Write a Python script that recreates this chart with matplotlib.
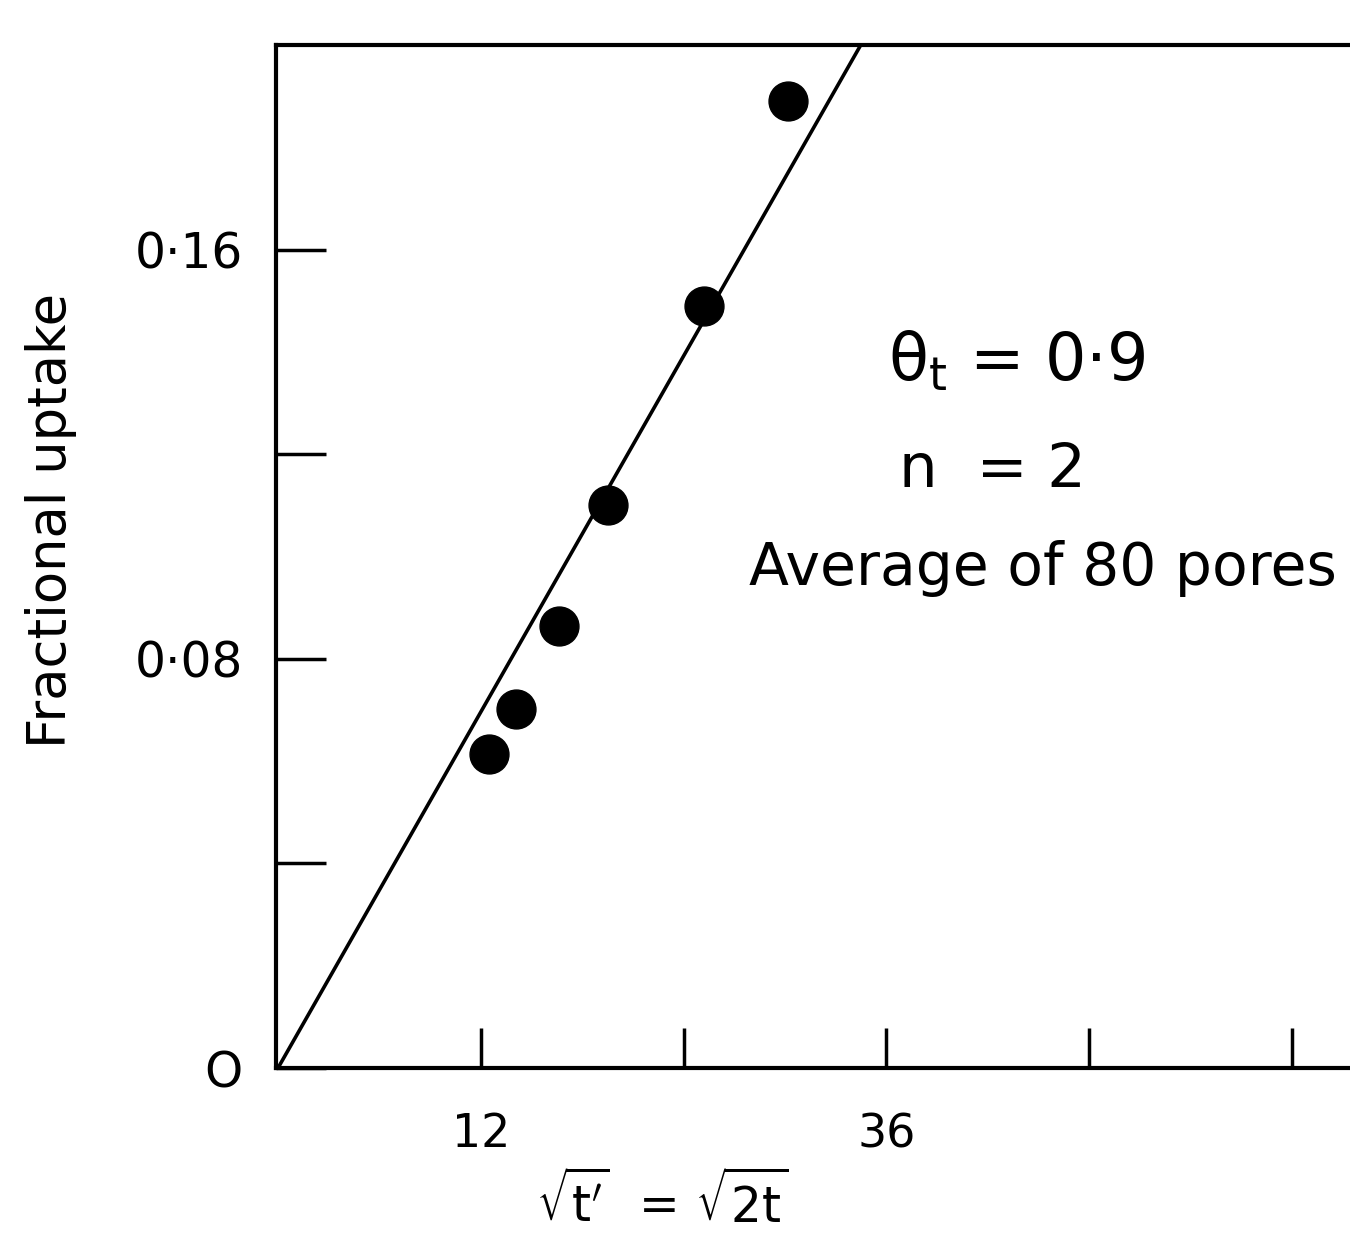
import matplotlib
matplotlib.use("Agg")
import matplotlib.pyplot as plt
import numpy as np

# data
sqrt_t = [12.5, 14.1, 16.6, 19.5, 25.2, 30.2]
uptake = [0.0614, 0.0702, 0.0864, 0.110, 0.149, 0.189]
fit_slope = 0.0058
x_ticks = [12, 24, 36, 48, 60]
x_ticklabels = ["12", "", "36", "", ""]
y_ticks = [0, 0.04, 0.08, 0.12, 0.16]
y_ticklabels = ["O", "", "0·08", "", "0·16"]

plt.rcParams['font.family'] = ['DejaVu Sans']
fig = plt.figure(figsize=(13.5, 12.42), dpi=100)
W, H = 1350, 1242
left, right, top, bottom = 276, 1350, 45, 1068
ax = fig.add_axes([left / W, 1 - bottom / H, (right - left) / W, (bottom - top) / H])

xmax = (right - 278) / 16.9
ax.set_xlim(-2 / 16.9, xmax)
ax.set_ylim(0, 0.2)

xl = np.array([0, 0.2 / fit_slope])
ax.plot(xl, fit_slope * xl, color='black', lw=2.6, solid_capstyle='butt')
ax.plot(sqrt_t, uptake, 'o', color='black', ms=28, clip_on=False)

for s in ['left', 'bottom', 'top']:
    ax.spines[s].set_linewidth(3)
ax.spines['right'].set_visible(False)

ax.set_xticks(x_ticks)
ax.set_xticklabels(x_ticklabels, fontsize=33, fontweight='medium')
ax.set_yticks(y_ticks)
ax.set_yticklabels(y_ticklabels, fontsize=35, fontweight='medium')
ax.tick_params(axis='x', direction='in', length=29, width=2.5, pad=32)
ax.tick_params(axis='y', direction='in', length=36, width=2.5, pad=24)

ax.set_ylabel("Fractional uptake", fontsize=38, fontweight='medium')
ax.yaxis.set_label_coords(-0.185, 0.535)

fig.text(662 / W, 1 - 1203 / H, r"$\sqrt{\mathrm{t'}}$  = $\sqrt{\mathrm{2t}}$", fontsize=35,
         ha='center', va='center')

ax.text(0.57, 0.69, "θ$_\\mathrm{t}$ = 0·9", transform=ax.transAxes, fontsize=47,
        ha='left', va='center')
ax.text(0.58, 0.584, "n  = 2", transform=ax.transAxes, fontsize=44,
        ha='left', va='center')
ax.text(0.44, 0.488, "Average of 80 pores", transform=ax.transAxes, fontsize=42,
        ha='left', va='center')

fig.savefig("out.png", dpi=100)
